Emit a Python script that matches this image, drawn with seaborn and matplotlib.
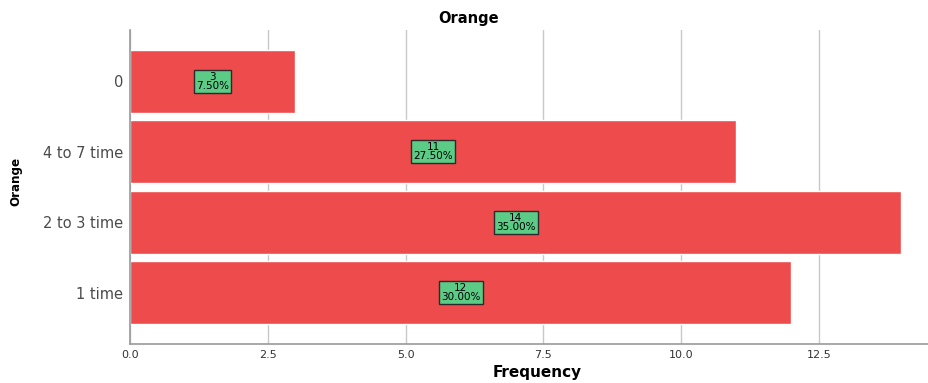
import matplotlib
matplotlib.use("Agg")
import matplotlib.pyplot as plt
import seaborn as sns
import pandas as pd

categories = ["0", "4 to 7 time", "2 to 3 time", "1 time"]
counts = [3, 11, 14, 12]
percents = [7.50, 27.50, 35.00, 30.00]
xticks = [0.0, 2.5, 5.0, 7.5, 10.0, 12.5]

sns.set_theme(style="white")
plt.rcParams['font.family'] = ['DejaVu Sans']

df = pd.DataFrame({"Orange": categories, "Frequency": counts})

fig = plt.figure(figsize=(9.29, 3.83), dpi=100)
ax = fig.add_axes([130/929, 1-344/383, 1-130/929, (344-30)/383])

sns.barplot(data=df, x="Frequency", y="Orange", order=categories, orient="h",
            color="#EE4B4C", saturation=1, width=0.89, ax=ax, zorder=2)

for i, (c, p) in enumerate(zip(counts, percents)):
    ax.text(c / 2, i, f"{c}\n{p:.2f}%", ha="center", va="center",
            fontsize=7.5, linespacing=0.85, color="black", zorder=4,
            bbox=dict(boxstyle="square,pad=0.22", facecolor="#5CCB86",
                      edgecolor="#2b2b2b", linewidth=1.0))

ax.set_xlim(0, 14.5)
ax.set_ylim(3.73, -0.73)
ax.set_xticks(xticks)
ax.set_xticklabels([f"{t:.1f}" for t in xticks], fontsize=8, color="#333333")
ax.tick_params(axis="y", labelsize=10.5, labelcolor="#4a4a4a", length=0, pad=5)
ax.tick_params(axis="x", length=0, pad=4)
ax.xaxis.grid(True, color="#C8C8C8", linewidth=1.0, zorder=0)
ax.set_axisbelow(True)

for s in ["top", "right"]:
    ax.spines[s].set_visible(False)
for s in ["left", "bottom"]:
    ax.spines[s].set_color("#999999")
    ax.spines[s].set_linewidth(1.2)

ax.set_xlabel("")
ax.set_ylabel("")
fig.text(537/929, 1-373/383, "Frequency", ha="center", va="center",
         fontsize=11, fontweight="bold", color="black")
fig.text(16/929, 1-181/383, "Orange", ha="center", va="center", rotation=90,
         fontsize=9.5, fontweight="bold", fontstretch="condensed", color="black")
fig.text(469/929, 1-19/383, "Orange", ha="center", va="center",
         fontsize=10.5, fontweight="bold", color="black")

fig.savefig("out.png", dpi=100)
